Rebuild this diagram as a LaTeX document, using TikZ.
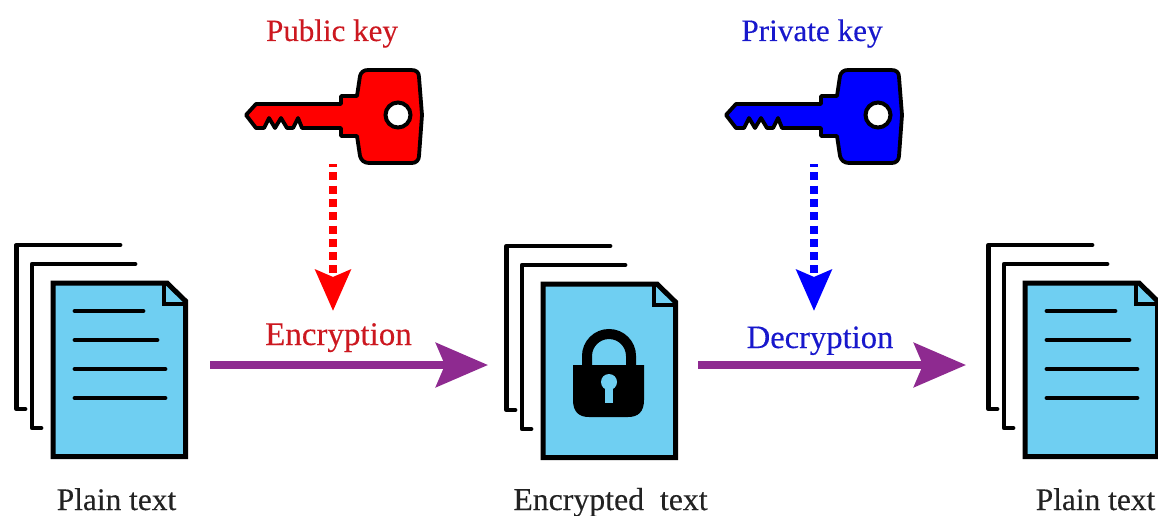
\documentclass[tikz,border=0pt]{standalone}
\usepackage{fontspec}
\setmainfont[FakeBold=0.25]{Liberation Serif}
\usetikzlibrary{arrows.meta}
\definecolor{docblue}{HTML}{6FCFF2}
\definecolor{purp}{HTML}{8E2A90}
\definecolor{txtred}{HTML}{CC1820}
\definecolor{txtblue}{HTML}{1818CC}
\definecolor{txtdark}{HTML}{222222}
\tikzset{
  label text/.style={inner sep=0pt,anchor=base,font=\fontsize{#1}{34}\selectfont},
  doc line/.style={line width=4.8pt,line cap=round,line join=round,black},
  main arrow/.style={line width=8pt,purp,-{Stealth[length=52pt,width=44pt,inset=9pt]}},
  dot arrow/.style={line width=8pt,dash pattern=on 8pt off 5.3pt,dash phase=5pt,-{Stealth[length=41pt,width=35pt,inset=7pt]}},
  key shape/.pic={
    \draw[line width=3.8pt,line join=round,fill=#1]
      (246,115) -- (256,104) -- (341,104) -- (341,96) -- (357,96)
      -- (360,76) .. controls (361,72) and (364,70) .. (368,70)
      -- (411,70) .. controls (416,70) and (419,72) .. (419,77)
      -- (422,115) -- (419,156) .. controls (419,160) and (416,163) .. (412,163)
      -- (369,163) .. controls (364,163) and (361,160) .. (360,156)
      -- (357,136) -- (341,136) -- (341,128) -- (302,128) -- (298,118) -- (293,128)
      -- (287,128) -- (281,118) -- (275,128) -- (269,118) -- (264,128) -- (256,128) -- cycle;
    \draw[line width=4pt,fill=white] (398,115) circle (12.5);
  },
  stack shape/.pic={
    \draw[doc line] (120,245) -- (16.5,245) -- (16.5,409) -- (25,409);
    \draw[doc line] (135,264) -- (32,264) -- (32,428) -- (41,428);
    \draw[doc line,line width=5pt,fill=docblue,line cap=butt,line join=miter] (53,283) -- (167,283) -- (185.5,301) -- (185.5,456.5) -- (53,456.5) -- cycle;
    \draw[line width=4.6pt,line join=miter,fill=docblue] (164,285) -- (164,304) -- (184,304);
  },
  text lines/.pic={
    \draw[doc line] (75,311) -- (143,311);
    \draw[doc line] (75,340) -- (157,340);
    \draw[doc line] (75,369) -- (165,369);
    \draw[doc line] (75,398) -- (165,398);
  }
}
\begin{document}
\begin{tikzpicture}[x=1pt,y=-1pt]
\useasboundingbox (0,0) rectangle (1158,516);
\clip (0,0) rectangle (1158,516);
% keys
\pic (pubkey) at (0,0) {key shape=red};
\pic (privkey) at (480,0) {key shape=blue};
% document stacks
\pic (d1) at (0,0) {stack shape};
\pic (t1) at (0,0) {text lines};
\pic (d2) at (490,1) {stack shape};
\pic (d3) at (972,0) {stack shape};
\pic (t3) at (972,0) {text lines};
% padlock
\draw[line width=10pt,black] (587,366) -- (587,356) arc[start angle=180,end angle=360,radius=22] -- (631,366);
\fill[black] (573,365) -- (644,365) -- (644,400) .. controls (644,412) and (638,417) .. (628,417)
  -- (589,417) .. controls (579,417) and (573,412) .. (573,400) -- cycle;
\fill[docblue] (609,382) circle (8);
\fill[docblue] (605,384) rectangle (613,403);
% labels
\node[label text=31,text=txtred] (publabel) at (332,41) {Public key};
\node[label text=31.2,text=txtblue] (privlabel) at (812,41) {Private key};
\node[label text=33,text=txtred] (enclabel) at (338.5,345) {Encryption};
\node[label text=32.6,text=txtblue] (declabel) at (820,348) {Decryption};
\node[label text=31.4,text=txtdark] (pt1) at (116.5,510) {Plain text};
\node[label text=31.8,text=txtdark] (et) at (610.5,510) {Encrypted\ \ text};
\node[label text=31.4,text=txtdark] (pt2) at (1095.5,510) {Plain text};
% connectors
\coordinate (a1) at (210,365); \coordinate (a2) at (488,365);
\coordinate (b1) at (698,365); \coordinate (b2) at (966,365);
\coordinate (c1) at (333,164); \coordinate (c2) at (333,311);
\coordinate (e1) at (814,164); \coordinate (e2) at (814,311);
\draw[main arrow] (a1) -- (a2);
\draw[main arrow] (b1) -- (b2);
\draw[dot arrow,red] (c1) -- (c2);
\draw[dot arrow,blue] (e1) -- (e2);
\end{tikzpicture}
\end{document}
